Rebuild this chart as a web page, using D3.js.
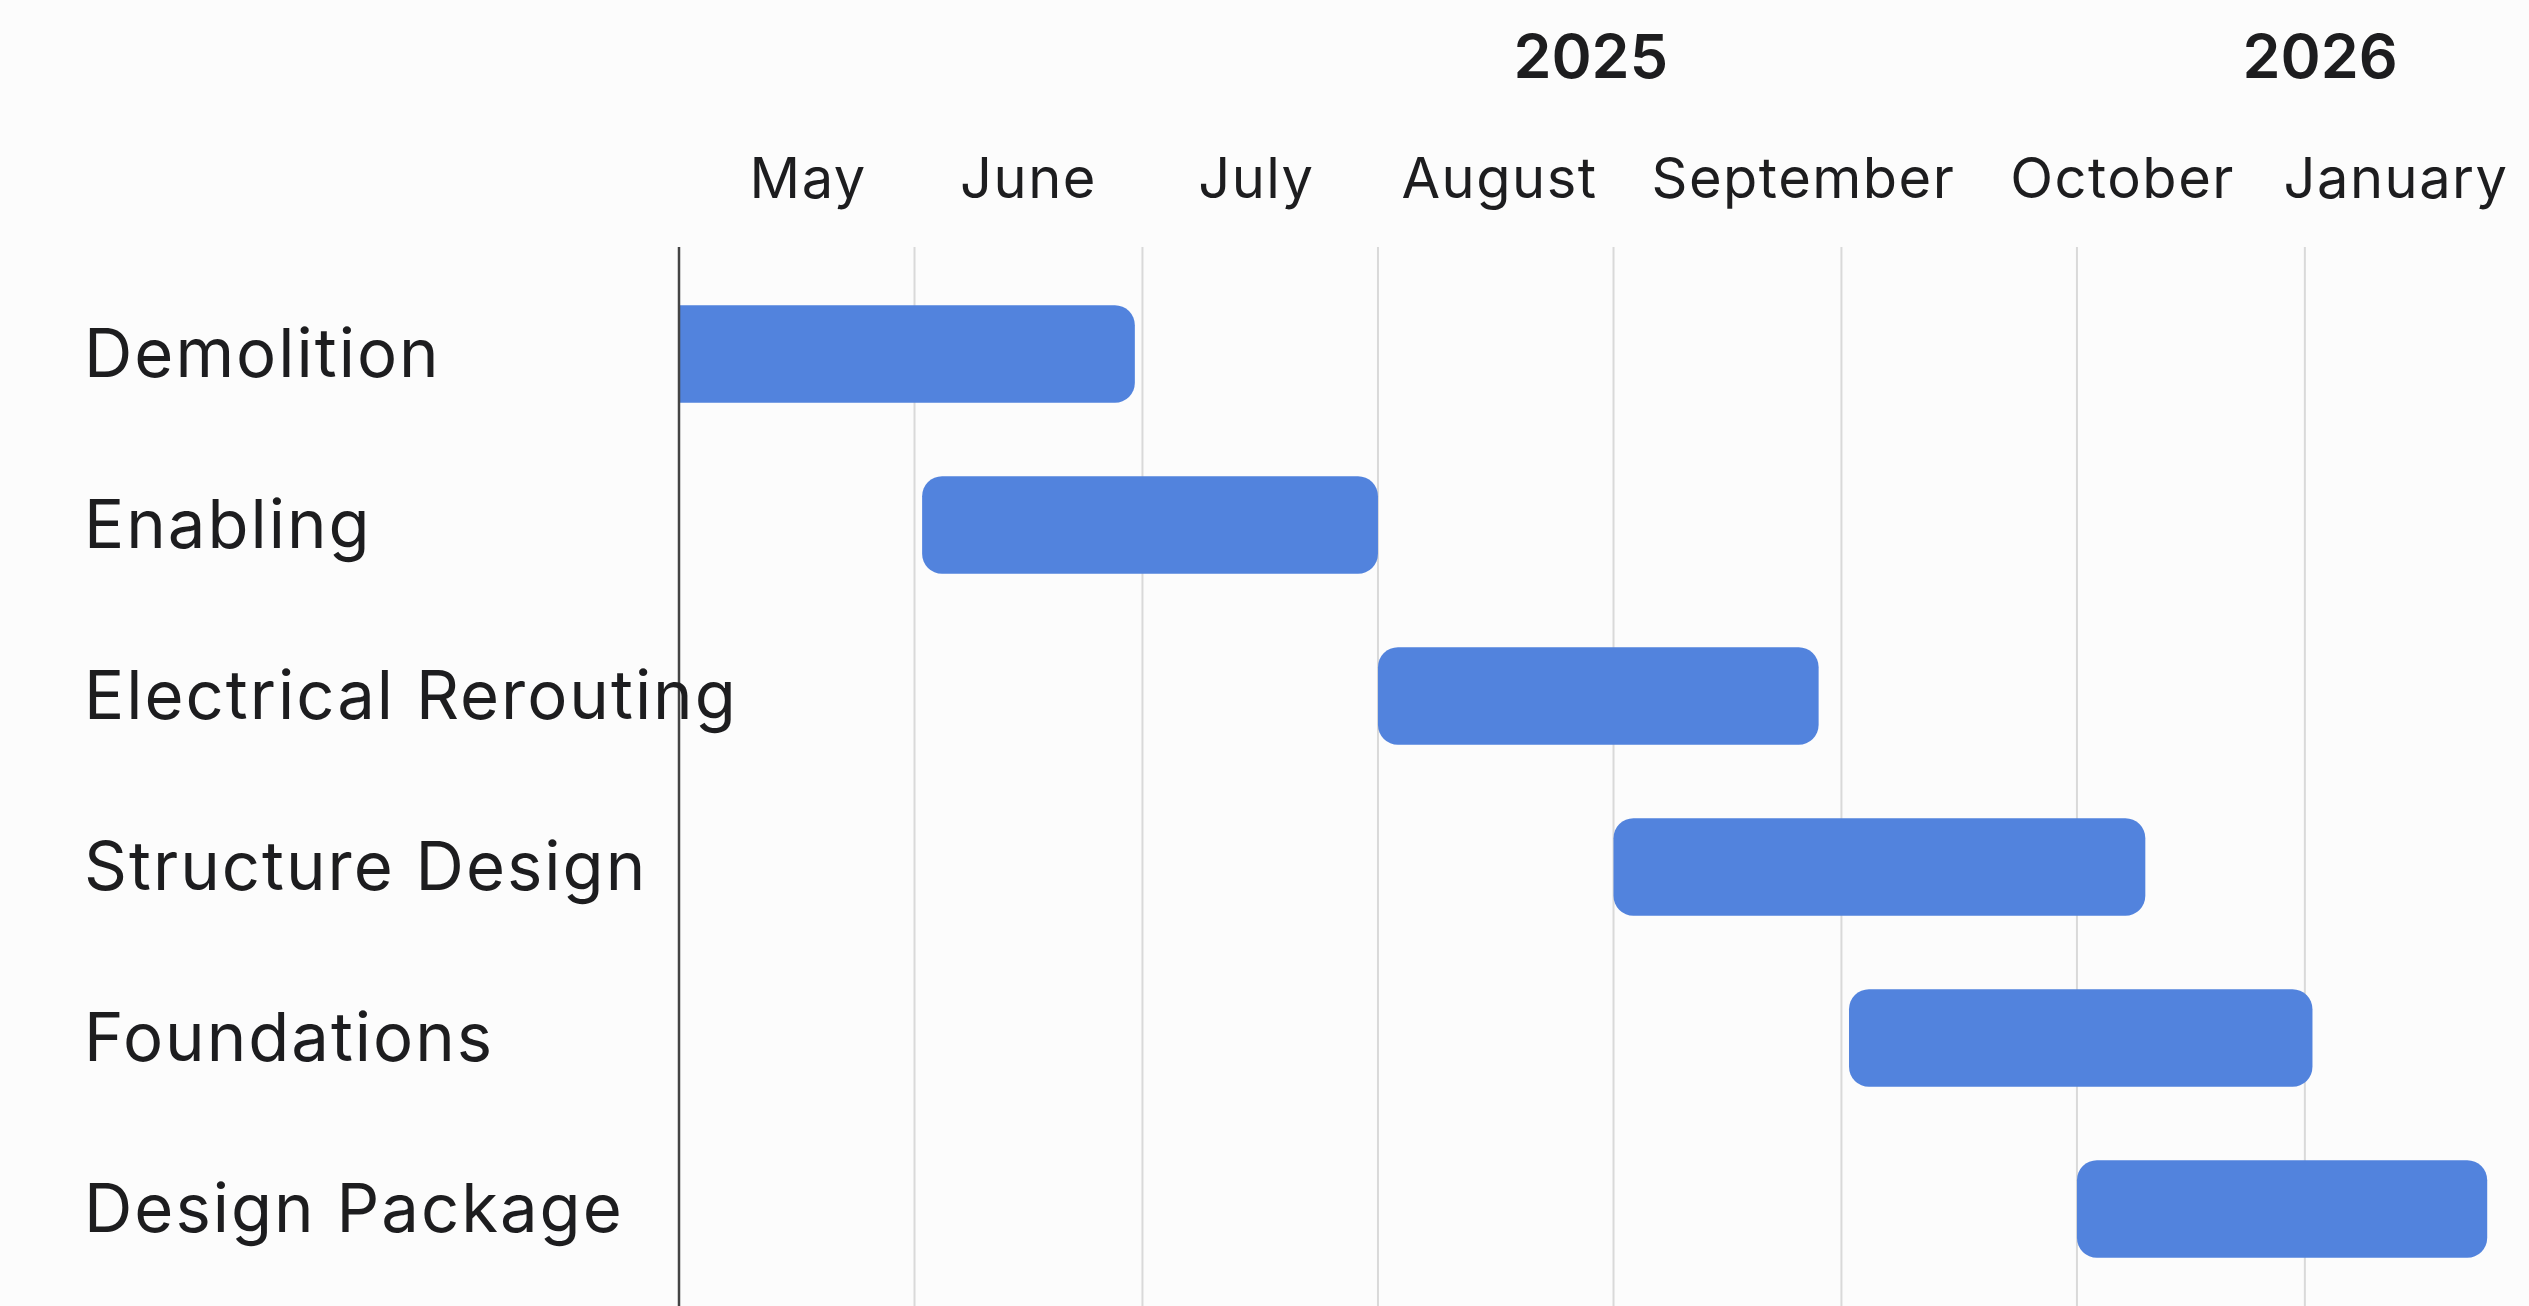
<!DOCTYPE html>
<html>
<head>
<meta charset="utf-8">
<script src="https://cdn.jsdelivr.net/npm/d3@7"></script>
<style>
  html, body { margin: 0; padding: 0; background: #fcfcfc; }
  svg { display: block; font-family: Inter, "Noto Sans", sans-serif; }
</style>
</head>
<body>
<div id="chart"></div>
<script>
// tasks and their schedule (Demolition starts before the visible window)
const tasks = ["Demolition", "Enabling", "Electrical Rerouting", "Structure Design", "Foundations", "Design Package"];
const startDates = ["2025-04-01", "2025-06-02", "2025-08-01", "2025-09-01", "2025-10-02", "2025-11-01"];
const endDates = ["2025-06-30", "2025-08-01", "2025-09-28", "2025-11-10", "2025-12-02", "2025-12-25"];

// header labels and the dates they sit on
const monthLabels = ["May", "June", "July", "August", "September", "October", "January"];
const monthLabelDates = ["2025-05-18", "2025-06-16", "2025-07-16", "2025-08-17", "2025-09-26", "2025-11-07", "2025-12-13"];
const yearLabels = ["2025", "2026"];
const yearLabelDates = ["2025-08-29", "2025-12-03"];

const domainStart = "2025-05-01";
const domainEnd = "2025-12-28";

const width = 2529;
const height = 1306;
const parse = d3.utcParse("%Y-%m-%d");

const svg = d3.select("#chart")
  .append("svg")
  .attr("width", width)
  .attr("height", height);

svg.append("rect")
  .attr("width", width)
  .attr("height", height)
  .attr("fill", "#fcfcfc");

const x = d3.scaleUtc()
  .domain([parse(domainStart), parse(domainEnd)])
  .range([679, 2510]);

const y = d3.scaleBand()
  .domain(tasks)
  .range([268.5, 1294.5])
  .paddingInner(0.43)
  .paddingOuter(0.215);

const headerY = 247;

// soft separator under the header
const defs = svg.append("defs");
defs.append("filter")
  .attr("id", "soft")
  .append("feGaussianBlur")
  .attr("stdDeviation", 1.5);

defs.append("clipPath")
  .attr("id", "plot-clip")
  .append("rect")
  .attr("x", x.range()[0])
  .attr("y", headerY)
  .attr("width", x.range()[1] - x.range()[0])
  .attr("height", height - headerY);

svg.append("line")
  .attr("x1", x.range()[0])
  .attr("x2", x.range()[1])
  .attr("y1", headerY - 2)
  .attr("y2", headerY - 2)
  .attr("stroke", "#d9d9d9")
  .attr("stroke-width", 5)
  .attr("filter", "url(#soft)");

// month gridlines
const gridDates = x.ticks(d3.utcMonth.every(1)).filter(d => +d > +x.domain()[0]);
svg.append("g")
  .selectAll("line")
  .data(gridDates)
  .join("line")
  .attr("x1", d => x(d))
  .attr("x2", d => x(d))
  .attr("y1", headerY)
  .attr("y2", height)
  .attr("stroke", "#d9d9d9")
  .attr("stroke-width", 2);

// bars
svg.append("g")
  .attr("clip-path", "url(#plot-clip)")
  .selectAll("rect")
  .data(tasks)
  .join("rect")
  .attr("x", (d, i) => x(parse(startDates[i])))
  .attr("y", d => y(d))
  .attr("width", (d, i) => x(parse(endDates[i])) - x(parse(startDates[i])))
  .attr("height", y.bandwidth())
  .attr("rx", 20)
  .attr("fill", "#5283dd");

// left axis line
svg.append("line")
  .attr("x1", x.range()[0])
  .attr("x2", x.range()[0])
  .attr("y1", headerY)
  .attr("y2", height)
  .attr("stroke", "#444")
  .attr("stroke-width", 2.5);

// task labels
svg.append("g")
  .selectAll("text")
  .data(tasks)
  .join("text")
  .attr("x", 84)
  .attr("y", d => y(d) + y.bandwidth() / 2)
  .attr("dy", "0.35em")
  .attr("font-size", 67)
  .attr("letter-spacing", 2)
  .attr("fill", "#1d1d1f")
  .text(d => d);

// month labels
svg.append("g")
  .selectAll("text")
  .data(monthLabels)
  .join("text")
  .attr("x", (d, i) => x(parse(monthLabelDates[i])))
  .attr("y", 198)
  .attr("text-anchor", "middle")
  .attr("font-size", 56)
  .attr("letter-spacing", 1.5)
  .attr("fill", "#1d1d1f")
  .text(d => d);

// year labels
svg.append("g")
  .selectAll("text")
  .data(yearLabels)
  .join("text")
  .attr("x", (d, i) => x(parse(yearLabelDates[i])))
  .attr("y", 78)
  .attr("text-anchor", "middle")
  .attr("font-size", 61)
  .attr("font-weight", 600)
  .attr("fill", "#1d1d1f")
  .text(d => d);
</script>
</body>
</html>
